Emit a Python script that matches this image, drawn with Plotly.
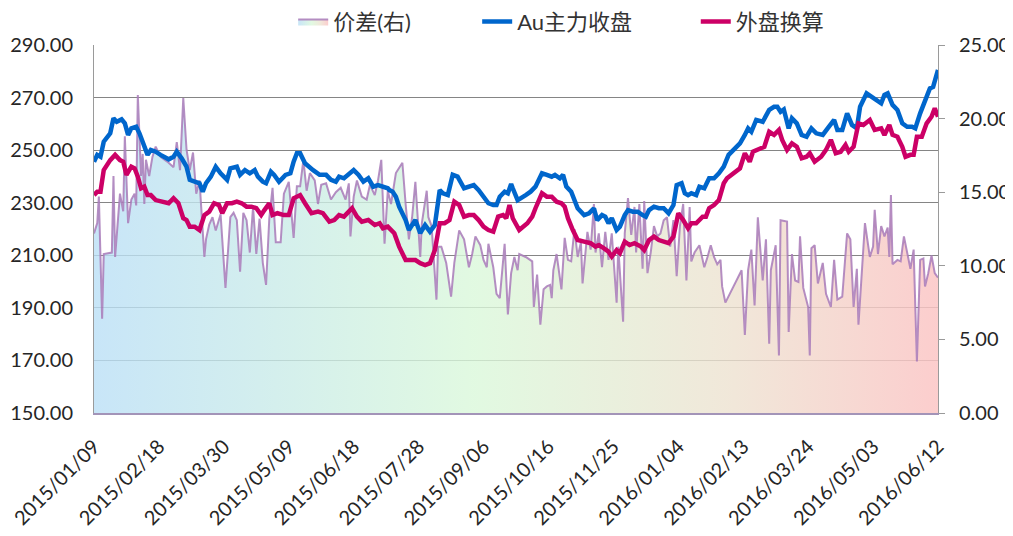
import plotly.graph_objects as go

# ---------------- data ----------------
au_dates = ["2015-01-09","2015-01-11","2015-01-13","2015-01-15","2015-01-19","2015-01-21","2015-01-23","2015-01-26","2015-01-28","2015-01-30",
"2015-02-01","2015-02-04","2015-02-06","2015-02-08","2015-02-11","2015-02-13","2015-02-16","2015-02-19","2015-02-24","2015-02-27",
"2015-03-01","2015-03-04","2015-03-07","2015-03-09","2015-03-12","2015-03-15","2015-03-17","2015-03-19","2015-03-22","2015-03-25","2015-03-28",
"2015-04-01","2015-04-03","2015-04-07","2015-04-09","2015-04-12","2015-04-15","2015-04-18","2015-04-20","2015-04-23","2015-04-25","2015-04-28","2015-04-30",
"2015-05-03","2015-05-07","2015-05-10","2015-05-12","2015-05-14","2015-05-16","2015-05-19","2015-05-24","2015-05-28",
"2015-06-01","2015-06-04","2015-06-07","2015-06-09","2015-06-12","2015-06-15","2015-06-18","2015-06-21","2015-06-24","2015-06-27","2015-06-30",
"2015-07-03","2015-07-06","2015-07-09","2015-07-10","2015-07-12","2015-07-14","2015-07-16","2015-07-20","2015-07-22","2015-07-26","2015-07-29",
"2015-08-01","2015-08-04","2015-08-07","2015-08-10","2015-08-12","2015-08-15","2015-08-18","2015-08-21","2015-08-25","2015-08-28","2015-08-31",
"2015-09-03","2015-09-06","2015-09-09","2015-09-12","2015-09-14","2015-09-16","2015-09-19","2015-09-21","2015-09-23","2015-09-24","2015-09-27",
"2015-10-02","2015-10-05","2015-10-08","2015-10-12","2015-10-15","2015-10-18","2015-10-20","2015-10-23","2015-10-25","2015-10-27","2015-10-30",
"2015-11-01","2015-11-03","2015-11-07","2015-11-10","2015-11-13","2015-11-15","2015-11-18","2015-11-20","2015-11-22","2015-11-24","2015-11-27","2015-11-29",
"2015-12-02","2015-12-04","2015-12-07","2015-12-10","2015-12-13","2015-12-15","2015-12-17","2015-12-20","2015-12-23","2015-12-26","2015-12-29",
"2016-01-01","2016-01-03","2016-01-06","2016-01-08","2016-01-10","2016-01-12","2016-01-15","2016-01-17","2016-01-20","2016-01-23","2016-01-26","2016-01-29",
"2016-02-01","2016-02-04","2016-02-08","2016-02-11","2016-02-14","2016-02-16","2016-02-18","2016-02-21","2016-02-25","2016-02-27","2016-02-29",
"2016-03-03","2016-03-05","2016-03-07","2016-03-09","2016-03-12","2016-03-14","2016-03-17","2016-03-20","2016-03-23","2016-03-26","2016-03-29",
"2016-04-02","2016-04-05","2016-04-09","2016-04-11","2016-04-14","2016-04-17","2016-04-20","2016-04-23","2016-04-25","2016-04-29",
"2016-05-02","2016-05-04","2016-05-08","2016-05-10","2016-05-12","2016-05-15","2016-05-18","2016-05-21","2016-05-24","2016-05-27","2016-05-29",
"2016-06-01","2016-06-04","2016-06-07","2016-06-09","2016-06-12"]
au_close = [245.6,248.2,247.5,253.2,256.4,262.1,260.8,261.7,260.2,255.8,
258.3,258.9,256.4,253.2,248.2,250.1,249.4,248.2,246.5,247.5,
249.4,246.9,243.7,238.7,238.0,237.4,234.2,237.4,239.9,243.7,241.2,
238.7,243.1,243.7,240.6,242.4,241.2,242.4,239.9,238.0,237.4,241.8,240.6,
238.0,240.6,241.2,245.6,248.8,248.8,245.0,242.4,240.6,
240.6,238.7,238.0,239.9,239.3,240.6,242.4,240.6,238.0,239.3,236.1,
236.7,236.1,235.5,234.8,234.2,232.3,228.5,223.4,219.6,223.4,218.4,
221.5,219.0,221.5,234.8,233.6,232.9,240.6,239.9,235.5,236.1,236.7,
234.8,232.3,229.8,229.1,229.1,232.3,234.2,233.6,237.1,235.5,231.0,
232.9,234.2,236.1,241.2,240.6,239.9,240.6,239.3,240.6,236.1,234.2,
231.0,227.9,225.3,226.0,227.9,223.4,225.3,224.7,222.2,224.1,219.6,220.9,
225.3,227.2,226.6,226.6,225.3,224.7,227.2,228.5,227.9,227.9,226.0,
229.1,236.7,237.4,233.6,232.9,233.6,232.9,236.1,235.5,239.3,239.3,241.2,
243.7,248.2,250.7,252.6,255.8,258.3,257.0,261.5,260.8,262.7,265.3,
266.5,266.5,264.6,265.5,258.3,262.1,260.2,255.8,255.1,258.3,256.4,
255.8,258.3,261.5,257.7,257.7,264.0,259.6,258.3,266.5,271.6,
270.3,269.7,267.8,271.0,271.6,267.2,265.3,260.2,258.9,258.9,258.3,
264.0,269.1,273.5,274.1,280.5]

ext_dates = ["2015-01-09","2015-01-11","2015-01-13","2015-01-15","2015-01-19","2015-01-22","2015-01-25","2015-01-27","2015-01-29",
"2015-02-01","2015-02-03","2015-02-05","2015-02-07","2015-02-09","2015-02-11","2015-02-13","2015-02-16","2015-02-19","2015-02-24","2015-02-27",
"2015-03-02","2015-03-05","2015-03-07","2015-03-09","2015-03-12","2015-03-15","2015-03-18","2015-03-21","2015-03-24","2015-03-27","2015-03-29",
"2015-04-01","2015-04-04","2015-04-07","2015-04-10","2015-04-13","2015-04-16","2015-04-19","2015-04-22","2015-04-24","2015-04-27","2015-04-29",
"2015-05-02","2015-05-06","2015-05-09","2015-05-12","2015-05-15","2015-05-16","2015-05-19","2015-05-23","2015-05-27","2015-05-30",
"2015-06-03","2015-06-06","2015-06-09","2015-06-12","2015-06-17","2015-06-20","2015-06-23","2015-06-27",
"2015-07-01","2015-07-04","2015-07-06","2015-07-09","2015-07-13","2015-07-16","2015-07-20","2015-07-23","2015-07-26","2015-07-29",
"2015-08-01","2015-08-04","2015-08-07","2015-08-10","2015-08-13","2015-08-16","2015-08-19","2015-08-22","2015-08-25","2015-08-28","2015-08-31",
"2015-09-03","2015-09-06","2015-09-09","2015-09-12","2015-09-15","2015-09-18","2015-09-20","2015-09-22","2015-09-24","2015-09-28",
"2015-10-03","2015-10-06","2015-10-08","2015-10-12","2015-10-15","2015-10-18","2015-10-21","2015-10-24","2015-10-26","2015-10-28","2015-10-31",
"2015-11-03","2015-11-07","2015-11-11","2015-11-14","2015-11-16","2015-11-19","2015-11-22","2015-11-24","2015-11-27","2015-11-29",
"2015-12-02","2015-12-05","2015-12-08","2015-12-12","2015-12-14","2015-12-17","2015-12-20","2015-12-23","2015-12-26","2015-12-29",
"2016-01-01","2016-01-04","2016-01-07","2016-01-10","2016-01-12","2016-01-15","2016-01-19","2016-01-21","2016-01-23","2016-01-26","2016-01-29",
"2016-02-01","2016-02-03","2016-02-07","2016-02-11","2016-02-14","2016-02-17","2016-02-19","2016-02-22","2016-02-26","2016-02-29",
"2016-03-03","2016-03-06","2016-03-08","2016-03-11","2016-03-14","2016-03-17","2016-03-20","2016-03-23","2016-03-25","2016-03-28",
"2016-04-01","2016-04-04","2016-04-07","2016-04-10","2016-04-13","2016-04-16","2016-04-18","2016-04-21","2016-04-24","2016-04-27",
"2016-05-01","2016-05-04","2016-05-08","2016-05-10","2016-05-13","2016-05-15","2016-05-18","2016-05-21","2016-05-23","2016-05-26","2016-05-28","2016-05-30",
"2016-06-02","2016-06-05","2016-06-08","2016-06-10","2016-06-12"]
ext_conv = [232.9,234.2,234.2,242.4,246.2,248.2,246.2,245.6,240.6,
243.7,243.1,239.9,235.5,236.1,232.9,232.9,231.0,230.4,229.8,231.7,
229.8,224.1,223.4,220.9,220.9,219.6,225.3,226.6,229.8,229.1,226.0,
229.8,229.8,230.4,229.8,228.5,228.5,227.9,225.3,227.2,229.8,225.3,
226.0,225.3,225.3,231.7,232.3,232.9,229.8,226.0,226.6,226.0,
222.8,223.4,225.3,224.7,227.9,224.7,222.8,223.4,
221.5,222.2,220.3,220.9,218.4,213.3,208.2,208.2,208.2,207.0,
206.3,207.0,212.0,222.2,222.2,223.4,230.4,229.1,224.7,225.3,225.3,
223.4,220.9,219.6,219.0,224.7,225.3,224.1,229.1,224.1,219.6,
222.2,224.7,227.9,233.6,232.3,232.3,230.4,229.8,228.5,224.1,219.6,
215.8,215.2,214.6,213.3,213.9,212.7,211.4,209.5,212.0,210.8,
215.2,213.9,214.6,213.3,212.0,215.8,217.1,215.8,215.2,214.6,
217.1,226.0,223.4,220.3,222.2,222.2,224.7,224.7,227.9,229.1,231.0,
237.4,239.3,241.2,243.1,248.8,245.6,249.4,250.1,251.3,257.0,
255.8,257.7,253.9,250.1,252.6,251.3,246.9,247.5,248.8,245.6,
247.5,250.1,253.9,248.8,249.4,252.0,249.4,251.3,260.2,259.6,
261.5,257.7,258.3,255.8,259.6,255.8,255.1,251.3,247.5,248.2,248.2,255.1,
255.1,260.2,262.7,265.9,262.7]

diff_dates = ["2015-01-09","2015-01-11","2015-01-12","2015-01-14","2015-01-15","2015-01-20","2015-01-21","2015-01-22","2015-01-25","2015-01-27","2015-01-28","2015-01-30",
"2015-02-01","2015-02-03","2015-02-04","2015-02-05","2015-02-07","2015-02-08","2015-02-09","2015-02-10","2015-02-12","2015-02-14","2015-02-16","2015-02-19","2015-02-24","2015-02-27",
"2015-03-01","2015-03-03","2015-03-05","2015-03-07","2015-03-09","2015-03-11","2015-03-13","2015-03-15","2015-03-18","2015-03-19","2015-03-21","2015-03-23","2015-03-25","2015-03-28","2015-03-31",
"2015-04-03","2015-04-05","2015-04-07","2015-04-09","2015-04-11","2015-04-13","2015-04-15","2015-04-17","2015-04-19","2015-04-21","2015-04-23","2015-04-25","2015-04-27","2015-04-29",
"2015-05-01","2015-05-04","2015-05-06","2015-05-09","2015-05-12","2015-05-14","2015-05-16","2015-05-18","2015-05-20","2015-05-22","2015-05-25","2015-05-27","2015-05-29",
"2015-06-01","2015-06-04","2015-06-07","2015-06-10","2015-06-13","2015-06-15","2015-06-16","2015-06-18","2015-06-20","2015-06-23","2015-06-26","2015-06-28",
"2015-07-01","2015-07-03","2015-07-05","2015-07-07","2015-07-09","2015-07-11","2015-07-14","2015-07-18","2015-07-20","2015-07-22","2015-07-24","2015-07-26","2015-07-29","2015-07-30",
"2015-08-02","2015-08-03","2015-08-05","2015-08-08","2015-08-09","2015-08-11","2015-08-14","2015-08-17","2015-08-19","2015-08-22","2015-08-25","2015-08-28","2015-08-30",
"2015-09-01","2015-09-04","2015-09-06","2015-09-08","2015-09-09","2015-09-12","2015-09-14","2015-09-16","2015-09-17","2015-09-19","2015-09-21","2015-09-23","2015-09-25","2015-09-27","2015-09-28",
"2015-10-02","2015-10-06","2015-10-07","2015-10-09","2015-10-11","2015-10-13","2015-10-15","2015-10-17","2015-10-18","2015-10-19","2015-10-21","2015-10-24","2015-10-26","2015-10-28","2015-10-30",
"2015-11-01","2015-11-03","2015-11-05","2015-11-06","2015-11-09","2015-11-11","2015-11-13","2015-11-14","2015-11-16","2015-11-18","2015-11-20","2015-11-22","2015-11-24","2015-11-27","2015-11-28",
"2015-12-01","2015-12-02","2015-12-04","2015-12-06","2015-12-08","2015-12-09","2015-12-11","2015-12-13","2015-12-14","2015-12-16","2015-12-18","2015-12-20","2015-12-22","2015-12-24","2015-12-26","2015-12-28","2015-12-30",
"2016-01-01","2016-01-03","2016-01-05","2016-01-07","2016-01-09","2016-01-11","2016-01-12","2016-01-14","2016-01-17","2016-01-20","2016-01-22","2016-01-24","2016-01-26","2016-01-28","2016-01-30","2016-01-31",
"2016-02-02","2016-02-12","2016-02-14","2016-02-16","2016-02-18","2016-02-20","2016-02-22","2016-02-25","2016-02-27","2016-02-29",
"2016-03-01","2016-03-04","2016-03-06","2016-03-07","2016-03-11","2016-03-12","2016-03-14","2016-03-16","2016-03-18","2016-03-19","2016-03-21","2016-03-24","2016-03-25","2016-03-26","2016-03-28","2016-03-30",
"2016-04-02","2016-04-04","2016-04-07","2016-04-09","2016-04-11","2016-04-14","2016-04-17","2016-04-19","2016-04-21","2016-04-23","2016-04-24","2016-04-26","2016-04-28",
"2016-05-01","2016-05-03","2016-05-04","2016-05-06","2016-05-08","2016-05-10","2016-05-12","2016-05-13","2016-05-14","2016-05-15","2016-05-18","2016-05-20","2016-05-22","2016-05-24","2016-05-26","2016-05-28","2016-05-30",
"2016-06-01","2016-06-03","2016-06-04","2016-06-06","2016-06-08","2016-06-10","2016-06-12"]
spread = [12.2,12.9,14.7,6.4,10.8,10.9,16.1,10.6,14.9,13.7,18.8,12.9,
14.5,14.9,14.1,21.6,16.1,17.6,14.2,17.2,16.1,17.4,18.1,17.4,17.0,16.7,
18.4,16.5,21.4,17.9,16.5,17.7,14.9,15.8,10.6,11.8,12.8,13.3,12.4,13.5,8.5,
13.3,13.6,13.1,9.6,13.6,13.1,10.9,14.0,10.8,13.2,10.2,8.7,13.2,15.3,
11.6,11.6,14.9,15.7,11.9,15.4,15.4,17.2,15.1,16.3,15.8,14.2,15.5,
15.6,14.5,15.0,15.3,14.5,15.6,12.0,14.7,15.8,14.7,14.5,15.5,
14.8,15.8,17.2,11.5,15.1,14.2,16.3,17.0,14.2,11.8,13.3,15.7,10.6,12.9,
15.1,13.3,12.7,7.7,11.3,11.3,10.2,7.9,10.2,12.4,11.8,9.9,10.8,
12.0,11.4,10.4,9.9,11.5,9.9,8.1,7.8,9.0,11.5,6.7,9.5,10.6,9.7,10.8,
10.6,10.3,7.2,9.4,6.0,8.4,8.6,8.7,7.8,9.7,10.8,8.4,11.9,10.4,10.3,
12.5,10.6,11.6,8.8,12.3,11.1,14.2,10.9,12.2,9.9,12.3,10.4,12.2,7.5,11.3,
6.2,12.2,14.6,12.1,14.0,10.9,14.2,9.8,14.4,9.5,10.9,12.7,12.0,12.2,13.1,13.3,11.3,
13.1,9.3,12.7,14.2,9.0,14.0,10.3,10.9,11.4,9.9,10.6,11.4,10.6,10.1,10.4,8.6,
7.5,9.7,5.3,9.7,11.1,7.3,13.3,9.0,11.8,4.7,
9.7,11.4,3.9,13.1,13.0,5.5,10.8,9.0,8.9,12.0,8.5,7.2,3.9,11.2,11.4,8.8,
10.2,8.1,7.2,10.4,7.7,7.9,12.2,11.8,7.2,9.8,6.0,9.3,12.9,
10.6,11.3,13.8,10.8,12.7,12.0,12.6,10.6,14.8,10.1,10.4,10.3,12.0,10.9,9.8,11.1,3.5,
10.4,10.5,8.6,9.5,10.7,9.5,9.2]

tick_dates = ["2015-01-09","2015-02-18","2015-03-30","2015-05-09","2015-06-18","2015-07-28","2015-09-06",
              "2015-10-16","2015-11-25","2016-01-04","2016-02-13","2016-03-24","2016-05-03","2016-06-12"]
tick_labels = [d.replace("-", "/") for d in tick_dates]
left_ticks = [150, 170, 190, 210, 230, 250, 270, 290]
right_ticks = [0, 5, 10, 15, 20, 25]

FONT = "Lato, 'Noto Sans CJK SC', sans-serif"

fig = go.Figure()

fig.add_trace(go.Scatter(
    x=diff_dates, y=spread, name="价差(右)", mode="lines",
    line=dict(color="rgba(168,122,184,0.85)", width=2),
    fill="tozeroy",
    fillgradient=dict(type="horizontal", colorscale=[
        [0.0, "rgba(186,223,246,0.8)"],
        [0.45, "rgba(218,248,218,0.8)"],
        [0.75, "rgba(237,226,208,0.8)"],
        [1.0, "rgba(251,196,196,0.84)"]]),
    yaxis="y", legend="legend", showlegend=True))

fig.add_trace(go.Scatter(
    x=au_dates, y=au_close, name="Au主力收盘", mode="lines",
    line=dict(color="#0066CC", width=4.5), yaxis="y2", legend="legend2", showlegend=True))

fig.add_trace(go.Scatter(
    x=ext_dates, y=ext_conv, name="外盘换算", mode="lines",
    line=dict(color="#CC0066", width=4.5), yaxis="y2", legend="legend3", showlegend=True))

legend_common = dict(orientation="h", yanchor="middle", y=1.063, xanchor="left",
                     font=dict(family=FONT, size=22, color="#333333"),
                     bgcolor="rgba(0,0,0,0)", borderwidth=0)

fig.update_layout(
    width=1013, height=536,
    margin=dict(l=86, r=83, t=37, b=131, autoexpand=False),
    paper_bgcolor="white", plot_bgcolor="white",
    font=dict(family=FONT, size=20, color="#262626"),
    hovermode=False,
    showlegend=True,
    legend=dict(x=0.236, **legend_common),
    legend2=dict(x=0.454, **legend_common),
    legend3=dict(x=0.713, **legend_common),
    xaxis=dict(type="date", range=["2015-01-09", "2016-06-12"],
               tickmode="array", tickvals=tick_dates, ticktext=tick_labels,
               tickangle=-45, showgrid=False, ticks="",
               ticklabelstandoff=12,
               showline=True, linecolor="#a394b8", linewidth=2,
               tickfont=dict(family=FONT, size=20, color="#262626")),
    xaxis2=dict(overlaying="x", side="top", anchor="y", matches="x",
                showline=True, linecolor="#9a9a9a", linewidth=1,
                showticklabels=False, showgrid=False, ticks=""),
    yaxis=dict(range=[0, 25], side="right", tickmode="array", tickvals=right_ticks,
               tickformat=".2f", showgrid=False, zeroline=False,
               showline=True, linecolor="#9a9a9a", linewidth=1,
               ticks="outside", ticklen=6, tickcolor="#9a9a9a",
               ticklabelstandoff=10,
               tickfont=dict(family=FONT, size=20, color="#262626")),
    yaxis2=dict(range=[150, 290], overlaying="y", side="left", tickmode="array",
                tickvals=left_ticks, tickformat=".2f", showgrid=True,
                gridcolor="#858585", gridwidth=1, zeroline=False,
                showline=True, linecolor="#9a9a9a", linewidth=1, ticks="",
                ticklabelstandoff=16,
                tickfont=dict(family=FONT, size=20, color="#262626")),
)

fig.write_html("out.html")
